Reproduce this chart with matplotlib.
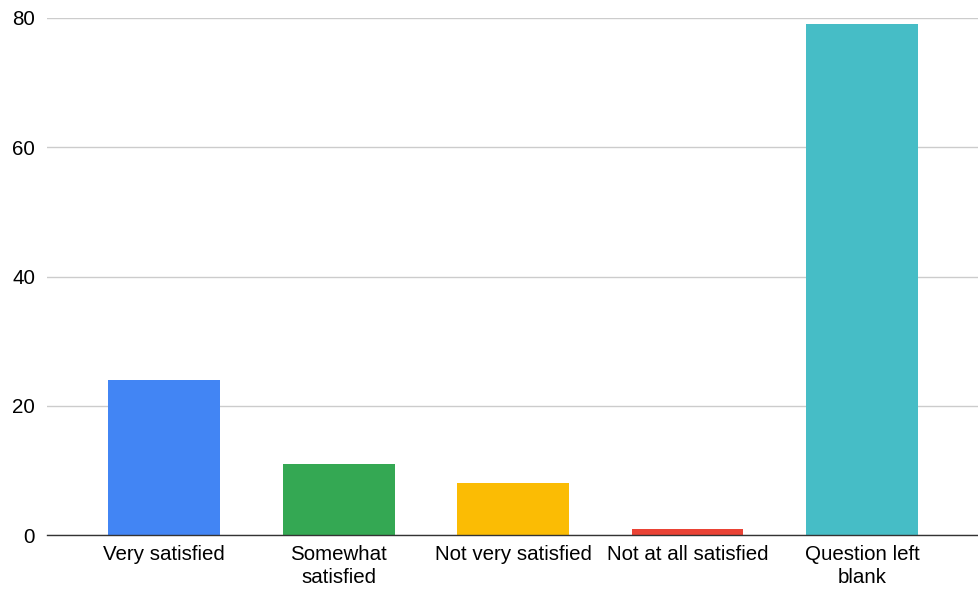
import matplotlib
matplotlib.use("Agg")
import matplotlib.pyplot as plt

categories = ["Very satisfied", "Somewhat\nsatisfied", "Not very satisfied", "Not at all satisfied", "Question left\nblank"]
values = [24, 11, 8, 1, 79]
colors = ["#4285F4", "#34A853", "#FBBC04", "#EA4335", "#46BDC6"]
yticks = [0, 20, 40, 60, 80]

plt.rcParams['font.family'] = ['Liberation Sans', 'DejaVu Sans']

fig = plt.figure(figsize=(9.79, 5.9), dpi=100)
ax = fig.add_axes([0.048, 0.0932, 0.952, 0.8763])

width = 0.64
x = list(range(len(categories)))
bars = ax.bar(x, values, width=width, color=colors, zorder=3)

ax.set_ylim(0, 80)
ax.set_xlim(-0.672, 4.67)
ax.set_yticks(yticks)
ax.set_xticks(x)
ax.set_xticklabels(categories, fontsize=14.8, linespacing=1.3)
ax.tick_params(axis='y', labelsize=14.8, length=0, pad=8.5)
ax.tick_params(axis='x', length=0, pad=7)
ax.yaxis.grid(True, color="#cccccc", linewidth=1, zorder=0)
for s in ["top", "right", "left"]:
    ax.spines[s].set_visible(False)
ax.spines["bottom"].set_color("#333333")
ax.spines["bottom"].set_linewidth(1)
ax.spines["bottom"].set_zorder(4)

fig.savefig("out.png", dpi=100)
